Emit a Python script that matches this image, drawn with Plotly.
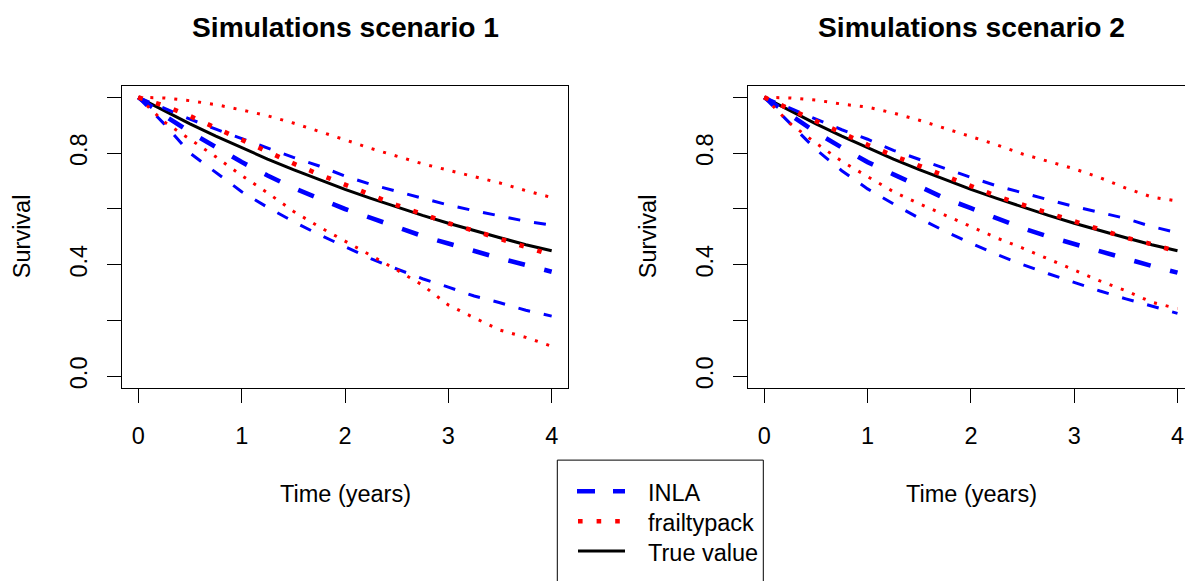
import plotly.graph_objects as go

# ---------------- data ----------------
time_years = [0, 0.25, 0.5, 0.75, 1, 1.25, 1.5, 1.75, 2, 2.25, 2.5, 2.75, 3, 3.25, 3.5, 3.75, 4]

# Scenario 1
true_s1 = [1.0, 0.951, 0.905, 0.861, 0.819, 0.779, 0.741, 0.705, 0.670, 0.638, 0.607, 0.577, 0.549, 0.522, 0.497, 0.472, 0.450]
inla_mean_s1 = [1.0, 0.935, 0.876, 0.820, 0.768, 0.720, 0.676, 0.637, 0.600, 0.568, 0.534, 0.503, 0.476, 0.448, 0.423, 0.399, 0.375]
inla_lo_s1 = [1.0, 0.905, 0.800, 0.731, 0.662, 0.606, 0.555, 0.508, 0.466, 0.422, 0.385, 0.350, 0.320, 0.288, 0.264, 0.237, 0.216]
inla_hi_s1 = [1.0, 0.960, 0.922, 0.886, 0.852, 0.817, 0.785, 0.754, 0.718, 0.688, 0.663, 0.639, 0.614, 0.594, 0.575, 0.556, 0.542]
fp_mean_s1 = [1.0, 0.970, 0.933, 0.890, 0.848, 0.804, 0.763, 0.724, 0.686, 0.651, 0.614, 0.582, 0.549, 0.522, 0.492, 0.463, 0.435]
fp_lo_s1 = [1.0, 0.912, 0.850, 0.787, 0.720, 0.658, 0.592, 0.536, 0.485, 0.435, 0.382, 0.327, 0.256, 0.210, 0.166, 0.140, 0.108]
fp_hi_s1 = [1.0, 0.998, 0.988, 0.974, 0.955, 0.934, 0.908, 0.879, 0.848, 0.817, 0.790, 0.762, 0.739, 0.716, 0.693, 0.666, 0.641]

# Scenario 2
true_s2 = [1.0, 0.951, 0.905, 0.861, 0.819, 0.779, 0.741, 0.705, 0.670, 0.638, 0.607, 0.577, 0.549, 0.522, 0.497, 0.472, 0.450]
inla_mean_s2 = [1.0, 0.935, 0.875, 0.820, 0.768, 0.724, 0.679, 0.638, 0.603, 0.565, 0.531, 0.501, 0.474, 0.446, 0.421, 0.396, 0.372]
inla_lo_s2 = [1.0, 0.905, 0.813, 0.737, 0.672, 0.618, 0.567, 0.520, 0.477, 0.437, 0.401, 0.368, 0.336, 0.306, 0.278, 0.252, 0.226]
inla_hi_s2 = [1.0, 0.960, 0.922, 0.884, 0.850, 0.810, 0.777, 0.744, 0.713, 0.683, 0.657, 0.633, 0.609, 0.587, 0.566, 0.537, 0.515]
fp_mean_s2 = [1.0, 0.957, 0.914, 0.872, 0.830, 0.791, 0.754, 0.717, 0.681, 0.646, 0.615, 0.585, 0.555, 0.525, 0.497, 0.474, 0.447]
fp_lo_s2 = [1.0, 0.906, 0.836, 0.771, 0.716, 0.662, 0.619, 0.578, 0.537, 0.496, 0.460, 0.421, 0.380, 0.342, 0.307, 0.266, 0.243]
fp_hi_s2 = [1.0, 0.998, 0.990, 0.976, 0.965, 0.944, 0.918, 0.889, 0.860, 0.830, 0.797, 0.771, 0.744, 0.712, 0.675, 0.643, 0.628]

panel_titles = ["Simulations scenario 1", "Simulations scenario 2"]
legend_labels = ["INLA", "frailtypack", "True value"]
x_tickvals = [0, 1, 2, 3, 4]
y_tickvals = [0.0, 0.2, 0.4, 0.6, 0.8, 1.0]
y_ticktext = ["0.0", "", "0.4", "", "0.8", ""]

# ---------------- styling ----------------
W, H = 1185, 581
FONT = "Liberation Sans, Arial, Helvetica, sans-serif"
FS = 23.5
BLUE, RED, BLACK = "#0000FF", "#FF0000", "#000000"

STYLE = {
    "true": dict(color=BLACK, width=3, dash="solid"),
    "inla_mean": dict(color=BLUE, width=4.6, dash="17px,20px"),
    "inla_ci": dict(color=BLUE, width=3, dash="12px,14px"),
    "fp_mean": dict(color=RED, width=4.6, dash="4.6px,14px"),
    "fp_ci": dict(color=RED, width=3, dash="3px,9px"),
}


def px(x):
    return x / W


def py(y):
    return 1 - y / H


fig = go.Figure()

panels = [
    ("x", "y", true_s1, inla_mean_s1, inla_lo_s1, inla_hi_s1, fp_mean_s1, fp_lo_s1, fp_hi_s1),
    ("x2", "y2", true_s2, inla_mean_s2, inla_lo_s2, inla_hi_s2, fp_mean_s2, fp_lo_s2, fp_hi_s2),
]
for xa, ya, tr, im, il, ih, fm, fl, fh in panels:
    series = [
        (tr, "true"),
        (im, "inla_mean"), (il, "inla_ci"), (ih, "inla_ci"),
        (fm, "fp_mean"), (fl, "fp_ci"), (fh, "fp_ci"),
    ]
    for vals, key in series:
        fig.add_trace(go.Scatter(
            x=time_years, y=vals, mode="lines", xaxis=xa, yaxis=ya,
            line=STYLE[key], showlegend=False, hoverinfo="skip",
        ))

# ---------------- axes ----------------
y_dom = [py(388.9), py(86.5)]
axis_common = dict(
    showgrid=False, zeroline=False, showline=True, linecolor=BLACK, linewidth=1,
    ticks="outside", ticklen=14, tickwidth=1, tickcolor=BLACK,
    tickfont=dict(family=FONT, size=FS, color=BLACK),
)
fig.update_layout(
    xaxis=dict(domain=[px(121.8), px(568.2)], range=[-0.16, 4.16], anchor="y",
               tickvals=x_tickvals, mirror=True, ticklabelstandoff=13, **axis_common),
    yaxis=dict(domain=y_dom, range=[-0.04, 1.04], anchor="x",
               tickvals=y_tickvals, ticktext=y_ticktext, tickangle=-90,
               mirror=True, ticklabelstandoff=10, **axis_common),
    xaxis2=dict(domain=[px(747.8), 1.0], range=[-0.16, (W - 764.3) / 103.3], anchor="y2",
                tickvals=x_tickvals, mirror=True, ticklabelstandoff=13, **axis_common),
    yaxis2=dict(domain=y_dom, range=[-0.04, 1.04], anchor="x2",
                tickvals=y_tickvals, ticktext=y_ticktext, tickangle=-90,
                mirror=False, ticklabelstandoff=10, **axis_common),
)

# ---------------- titles and axis labels ----------------
ann = []
for cx, title in [(345, panel_titles[0]), (971, panel_titles[1])]:
    ann.append(dict(text="<b>" + title + "</b>", x=px(cx), y=py(27), xref="paper", yref="paper",
                    showarrow=False, xanchor="center", yanchor="middle",
                    font=dict(family=FONT, size=FS * 1.2, color=BLACK)))
    ann.append(dict(text="Time (years)", x=px(cx), y=py(496), xref="paper", yref="paper",
                    showarrow=False, xanchor="center", yanchor="middle",
                    font=dict(family=FONT, size=FS, color=BLACK)))
for cx in [22, 648]:
    ann.append(dict(text="Survival", x=px(cx), y=py(237), xref="paper", yref="paper",
                    showarrow=False, xanchor="center", yanchor="middle", textangle=-90,
                    font=dict(family=FONT, size=FS, color=BLACK)))

# ---------------- legend (drawn box) ----------------
shapes = [dict(type="rect", xref="paper", yref="paper",
               x0=px(557.3), x1=px(763.3), y0=py(620), y1=py(461.7),
               line=dict(color=BLACK, width=1), fillcolor="rgba(0,0,0,0)")]
legend_keys = ["inla_mean", "fp_mean", "true"]
for i, (lab, key) in enumerate(zip(legend_labels, legend_keys)):
    yy = 493 + 30 * i
    x0 = 578 if key != "inla_mean" else 577
    shapes.append(dict(type="line", xref="paper", yref="paper",
                       x0=px(x0), x1=px(625), y0=py(yy), y1=py(yy),
                       line=STYLE[key] if key != "inla_mean" else dict(color=BLUE, width=4.6, dash="18px,18px")))
    ann.append(dict(text=lab, x=px(646), y=py(yy + 1.5), xref="paper", yref="paper",
                    showarrow=False, xanchor="left", yanchor="middle",
                    font=dict(family=FONT, size=FS, color=BLACK)))

fig.update_layout(
    width=W, height=H, margin=dict(l=0, r=0, t=0, b=0),
    paper_bgcolor="white", plot_bgcolor="white",
    showlegend=False, annotations=ann, shapes=shapes,
    font=dict(family=FONT, size=FS, color=BLACK),
)

fig.write_html(
    "out.html",
    config={"displayModeBar": False, "staticPlot": True},
    post_script="document.body.style.margin='0';document.body.style.overflow='hidden';",
)
